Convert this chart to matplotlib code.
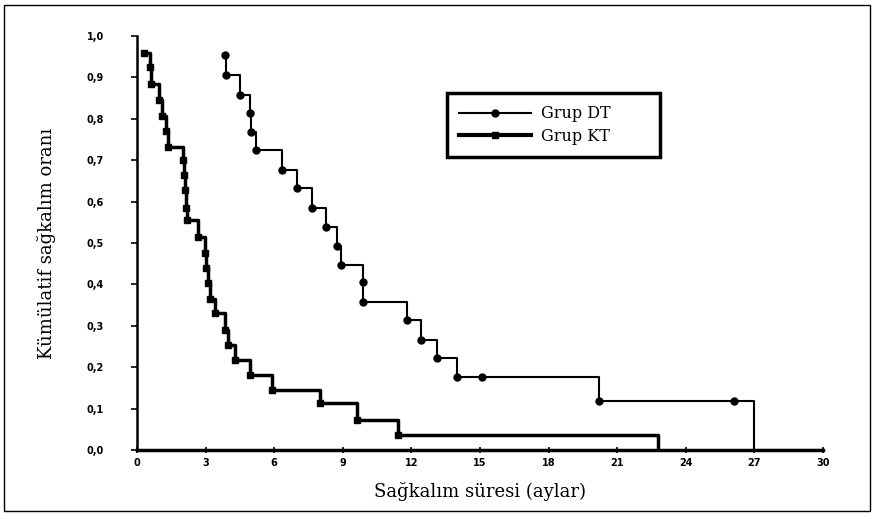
#program to plot Kaplan-Meier survival curves of two groups

import matplotlib.pyplot as plt
from matplotlib.lines import Line2D
from matplotlib.patches import Rectangle

########################################################################
### data ###
########################################################################

# Grup DT: step times (months) and survival after each step
dt_time = [3.85, 3.9, 4.5, 4.95, 5.0, 5.2, 6.35, 7.0, 7.66, 8.27, 8.75,
           8.93, 9.89, 9.9, 11.8, 12.4, 13.1, 14.0, 20.2, 27.0, 30.0]
dt_surv = [0.955, 0.906, 0.857, 0.814, 0.768, 0.725, 0.676, 0.633, 0.585,
           0.539, 0.493, 0.447, 0.406, 0.357, 0.314, 0.266, 0.222, 0.176,
           0.118, 0.0, 0.0]
dt_cens_time = [15.1, 26.1]
dt_cens_surv = [0.176, 0.118]

# Grup KT
kt_time = [0.3, 0.57, 0.6, 0.96, 1.1, 1.27, 1.36, 2.0, 2.05, 2.1, 2.15,
           2.2, 2.67, 2.98, 3.0, 3.1, 3.2, 3.41, 3.85, 3.98, 4.3, 4.95,
           5.9, 8.0, 9.63, 11.42, 22.8]
kt_surv = [0.96, 0.925, 0.884, 0.845, 0.807, 0.77, 0.732, 0.70, 0.664,
           0.628, 0.585, 0.556, 0.514, 0.476, 0.44, 0.403, 0.365, 0.33,
           0.29, 0.254, 0.217, 0.181, 0.145, 0.114, 0.072, 0.036, 0.0]

x_ticks = [0, 3, 6, 9, 12, 15, 18, 21, 24, 27, 30]
y_ticks = [0.0, 0.1, 0.2, 0.3, 0.4, 0.5, 0.6, 0.7, 0.8, 0.9, 1.0]
y_tick_labels = ['0,0', '0,1', '0,2', '0,3', '0,4', '0,5',
                 '0,6', '0,7', '0,8', '0,9', '1,0']

########################################################################
### plot ###
########################################################################

fig = plt.figure(figsize=(8.75, 5.19), dpi=100)
ax = fig.add_axes([0.1566, 0.1329, 0.784, 0.7977])

# DT curve (thin)
ax.plot(dt_time, dt_surv, drawstyle='steps-post', color='black', lw=1.5)
ax.plot(dt_time[:-2], dt_surv[:-2], 'o', color='black', ms=5)
ax.plot(dt_cens_time, dt_cens_surv, 'o', color='black', ms=5)

# KT curve (thick)
ax.plot(kt_time, kt_surv, drawstyle='steps-post', color='black', lw=2.5)
ax.plot(kt_time[:-1], kt_surv[:-1], 's', color='black', ms=5)

ax.set_xlim(0, 30)
ax.set_ylim(0, 1.0)
ax.set_xticks(x_ticks)
ax.set_yticks(y_ticks)
ax.set_yticklabels(y_tick_labels)
for lab in ax.get_xticklabels() + ax.get_yticklabels():
    lab.set_fontweight('bold')
    lab.set_fontsize(7)
ax.tick_params(axis='y', direction='out', length=4, width=1.2, pad=20)
ax.tick_params(axis='x', direction='inout', length=5, width=1.2, pad=3)

ax.spines['top'].set_visible(False)
ax.spines['right'].set_visible(False)
ax.spines['left'].set_linewidth(1.8)
ax.spines['bottom'].set_linewidth(2.5)

serif = ['DejaVu Serif']
ax.set_xlabel('Sağkalım süresi (aylar)', fontsize=13, family=serif, labelpad=10)
ax.set_ylabel('Kümülatif sağkalım oranı', fontsize=13, family=serif, labelpad=22)

handles = [Line2D([], [], color='black', lw=1.5, marker='o', ms=5),
           Line2D([], [], color='black', lw=3, marker='s', ms=5)]
leg = ax.legend(handles, ['Grup DT', 'Grup KT'], loc='upper left',
                bbox_to_anchor=(0.452, 0.0, 0.31, 0.862), mode='expand',
                prop={'family': serif, 'size': 11.5},
                handlelength=4.5, fancybox=False, edgecolor='black',
                framealpha=1, borderpad=0.75, labelspacing=0.35,
                handletextpad=0.6, borderaxespad=0)
leg.get_frame().set_linewidth(2.5)

# outer border of the figure
fig.patches.append(Rectangle((4 / 875, 8 / 519), 866 / 875, 506 / 519,
                             transform=fig.transFigure, fill=False,
                             edgecolor='black', lw=1))

fig.savefig('out.png', dpi=100)
